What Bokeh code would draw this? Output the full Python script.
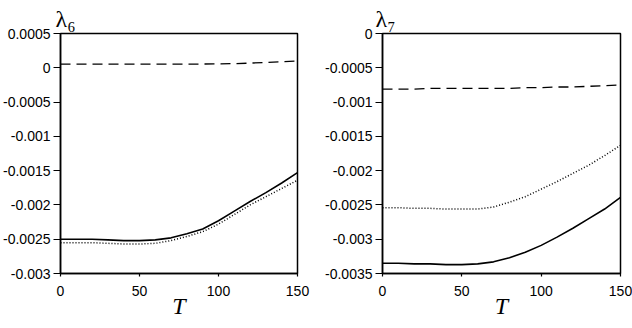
from bokeh.plotting import figure
from bokeh.layouts import row
from bokeh.models import Range1d, FixedTicker, CustomJSTickFormatter
from bokeh.embed import file_html
from bokeh.resources import INLINE

# ---- data ----
T = [0, 10, 20, 30, 40, 50, 60, 70, 80, 90, 100, 110, 120, 130, 140, 150]

l6_solid = [-0.00250, -0.00250, -0.00250, -0.00251, -0.00252, -0.00252, -0.00251, -0.00248,
            -0.00242, -0.00235, -0.00223, -0.00209, -0.00195, -0.00182, -0.00168, -0.00153]
l6_dotted = [-0.00255, -0.00255, -0.00255, -0.00256, -0.00257, -0.00257, -0.00256, -0.00252,
             -0.00246, -0.00239, -0.00228, -0.00214, -0.00200, -0.00188, -0.00176, -0.00164]
l6_dashed = [0.000054, 0.000054, 0.000054, 0.000054, 0.000054, 0.000054, 0.000054, 0.000054,
             0.000054, 0.000055, 0.000057, 0.000061, 0.000068, 0.000078, 0.000088, 0.000098]

l7_solid = [-0.00335, -0.00335, -0.00336, -0.00336, -0.00337, -0.00337, -0.00336, -0.00333,
            -0.00327, -0.00319, -0.00309, -0.00297, -0.00284, -0.00270, -0.00256, -0.00239]
l7_dotted = [-0.00254, -0.00254, -0.00255, -0.00255, -0.00256, -0.00256, -0.00256, -0.00253,
             -0.00246, -0.00238, -0.00227, -0.00216, -0.00204, -0.00192, -0.00178, -0.00163]
l7_dashed = [-0.00081, -0.00081, -0.00081, -0.00080, -0.00080, -0.00080, -0.00080, -0.00080,
             -0.00080, -0.00079, -0.00079, -0.00078, -0.00078, -0.00077, -0.00076, -0.00075]

x_ticks = [0, 50, 100, 150]
l6_yticks = [-0.003, -0.0025, -0.002, -0.0015, -0.001, -0.0005, 0, 0.0005]
l7_yticks = [-0.0035, -0.003, -0.0025, -0.002, -0.0015, -0.001, -0.0005, 0]

SANS = "Liberation Sans"
SERIF = "Liberation Serif"


def make_panel(title, solid, dotted, dashed, yticks, width, bl, br, title_dx):
    p = figure(width=width, height=328, output_backend="svg", toolbar_location=None,
               x_range=Range1d(0, 150), y_range=Range1d(min(yticks), max(yticks)),
               min_border_left=bl, min_border_right=br, min_border_top=33,
               min_border_bottom=55)
    p.grid.visible = False
    p.outline_line_color = "black"
    p.outline_line_width = 1.5
    p.background_fill_color = "white"
    p.border_fill_color = "white"

    p.title.text = title
    p.title.text_font = SERIF
    p.title.text_font_size = "24px"
    p.title.text_font_style = "normal"
    p.title.text_color = "black"
    p.title.align = "left"
    p.title.vertical_align = "top"
    p.title.offset = title_dx
    p.title.standoff = 0

    for ax in (p.xaxis[0], p.yaxis[0]):
        ax.axis_line_width = 1.5
        ax.axis_line_color = "black"
        ax.major_tick_line_width = 1.2
        ax.major_tick_line_color = "black"
        ax.minor_tick_line_color = None
        ax.major_label_text_font = SANS
        ax.major_label_text_font_size = "14px"
        ax.major_label_text_color = "black"

    p.xaxis.ticker = FixedTicker(ticks=x_ticks)
    p.xaxis.major_tick_out = 3
    p.xaxis.major_tick_in = 0
    p.xaxis.major_label_standoff = 9
    p.xaxis.axis_label = "T"
    p.xaxis.axis_label_text_font = SERIF
    p.xaxis.axis_label_text_font_style = "italic"
    p.xaxis.axis_label_text_font_size = "24px"
    p.xaxis.axis_label_text_color = "black"
    p.xaxis.axis_label_standoff = -6

    p.yaxis.ticker = FixedTicker(ticks=yticks)
    p.yaxis.formatter = CustomJSTickFormatter(code="return tick.toString();")
    p.yaxis.major_tick_out = 7
    p.yaxis.major_tick_in = 0
    p.yaxis.major_label_standoff = 3

    p.line(T, dashed, line_color="black", line_width=1.3, line_dash="10 6")
    p.line(T, dotted, line_color="black", line_width=1.5, line_dash="1 2")
    p.line(T, solid, line_color="black", line_width=1.6)
    return p


p1 = make_panel("λ₆", l6_solid, l6_dotted, l6_dashed, l6_yticks, 322, 58, 25, -5)
p2 = make_panel("λ₇", l7_solid, l7_dotted, l7_dashed, l7_yticks, 310, 58, 12, -7)

layout = row(p1, p2)
open("out.html", "w").write(file_html(layout, INLINE))
